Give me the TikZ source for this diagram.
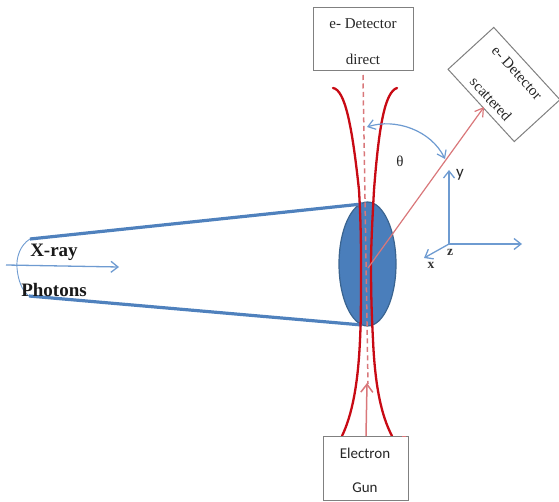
\documentclass[tikz,border=0pt]{standalone}
\usepackage{fontspec}
\setmainfont{Liberation Serif}
\newfontfamily\calfont{Carlito}
\usetikzlibrary{arrows.meta,shapes.geometric}
\definecolor{beam}{HTML}{4F81BD}
\definecolor{thinb}{HTML}{6E9BD1}
\definecolor{fillb}{HTML}{4A7EBB}
\definecolor{edgeb}{HTML}{3A6490}
\definecolor{redc}{HTML}{C80A14}
\definecolor{pale}{HTML}{D9777A}
\definecolor{boxc}{HTML}{808080}
\tikzset{
  box/.style={draw=boxc,line width=1pt,fill=white,minimum width=#1,inner sep=0pt,align=center},
  thick beam/.style={draw=beam,line width=3.2pt},
  thin arrow/.style={draw=thinb,line width=1.3pt,-{Straight Barb[length=7pt,width=11pt,line width=1.3pt]}},
  red curve/.style={draw=redc,line width=2.3pt},
  lab/.style={inner sep=0pt,font=\fontsize{15}{17}\selectfont,text=black!85},
  callab/.style={inner sep=0pt,font=\calfont\fontsize{15}{17}\selectfont,text=black!85},
  axislab/.style={inner sep=0pt,font=\bfseries\fontsize{13.5}{15}\selectfont,text=black!80},
  boldlab/.style={inner sep=0pt,font=\fontsize{19}{21}\selectfont\bfseries,text=black!90},
}
\begin{document}
\begin{tikzpicture}[x=1pt,y=-1pt]
\useasboundingbox (0,0) rectangle (559,502);
% named points
\coordinate (btl) at (30,239);
\coordinate (btr) at (362,204);
\coordinate (bbl) at (29,296);
\coordinate (bbr) at (362,325);
\coordinate (xs) at (6,265);
\coordinate (xe) at (119,267);
\coordinate (dt) at (363,75);
\coordinate (db) at (368,384);
\coordinate (sc) at (368,268);
\coordinate (se) at (484,107);
\coordinate (gunarrow) at (367,383);
\coordinate (gunfoot) at (366,436);
\coordinate (thA) at (367,127);
\coordinate (thB) at (445,159);
\coordinate (o) at (449,244);
\coordinate (ya) at (449,170);
\coordinate (za) at (522,244);
\coordinate (xa) at (424,258);
% ellipse
\node[ellipse,draw=edgeb,fill=fillb,line width=1.2pt,minimum width=57pt,minimum height=124pt,inner sep=0pt] (lens) at (367.5,264) {};
% beam
\draw[thick beam] (btl) -- (btr);
\draw[thick beam] (bbl) -- (bbr);
\draw[draw=thinb,line width=0.9pt] (btl) .. controls (20,245) and (16,258) .. (17,268) .. controls (18,280) and (22,291) .. (bbl);
\draw[thin arrow] (xs) -- (xe);
% red envelopes
\draw[red curve,line cap=round] (333,88) .. controls (345,90) and (352,125) .. (359,190) .. controls (361,225) and (361,250) .. (361,264) .. controls (361,300) and (361,320) .. (360,340) .. controls (358,385) and (352,415) .. (342,436);
\draw[red curve,line cap=round] (397,88) .. controls (385,92) and (379,125) .. (374,190) .. controls (372,225) and (371,250) .. (371,264) .. controls (371,300) and (372,320) .. (373,340) .. controls (375,385) and (381,415) .. (392,436);
% dashed
\draw[draw=pale,line width=1.5pt,dash pattern=on 5pt off 3.5pt] (dt) -- (db);
% boxes
\node[box=100pt,minimum height=63pt] (direct) at (363,39.5) {};
\node[lab] (t1) at (363,24) {e- Detector};
\node[lab] (t2) at (363,59) {direct};
\node[box=98pt,minimum height=62pt,rotate=-47.5] (scat) at (504,84.5) {};
\node[lab,rotate=-47.5] (t3) at (517,73) {e- Detector};
\node[lab,rotate=-47.5] (t4) at (491,99) {scattered};
\node[box=85pt,minimum height=64pt] (gun) at (365.5,468) {};
\node[callab] (t5) at (365,453) {Electron};
\node[callab] (t6) at (365,488) {Gun};
\draw[draw=pale,line width=1pt] (402,436) -- (406,436);
% electron arrows
\draw[draw=pale,line width=1.5pt,-{Straight Barb[length=8pt,width=12pt,line width=1.5pt]}] (gunfoot) -- (gunarrow);
\draw[draw=pale,line width=1.2pt,-{Straight Barb[length=8pt,width=10pt,line width=1.2pt]}] (sc) -- (se);
% angle
\draw[draw=thinb,line width=1.2pt,{Straight Barb[length=7pt,width=10pt,line width=1.2pt]}-{Straight Barb[length=7pt,width=10pt,line width=1.2pt]}] (thA) .. controls (395,118) and (431,130) .. (thB);
\node[lab] (th) at (400,161) {θ};
% axes
\draw[thin arrow] (o) -- (ya);
\draw[thin arrow] (o) -- (za);
\draw[thin arrow] (o) -- (xa);
\node[callab,font=\calfont\fontsize{17}{19}\selectfont] (yl) at (460,175) {y};
\node[axislab] (zl) at (450,252) {z};
\node[axislab] (xl) at (431,265) {x};
% text labels
\node[boldlab] (xr) at (54,252) {X-ray};
\node[boldlab] (ph) at (54,290) {Photons};
\end{tikzpicture}
\end{document}
